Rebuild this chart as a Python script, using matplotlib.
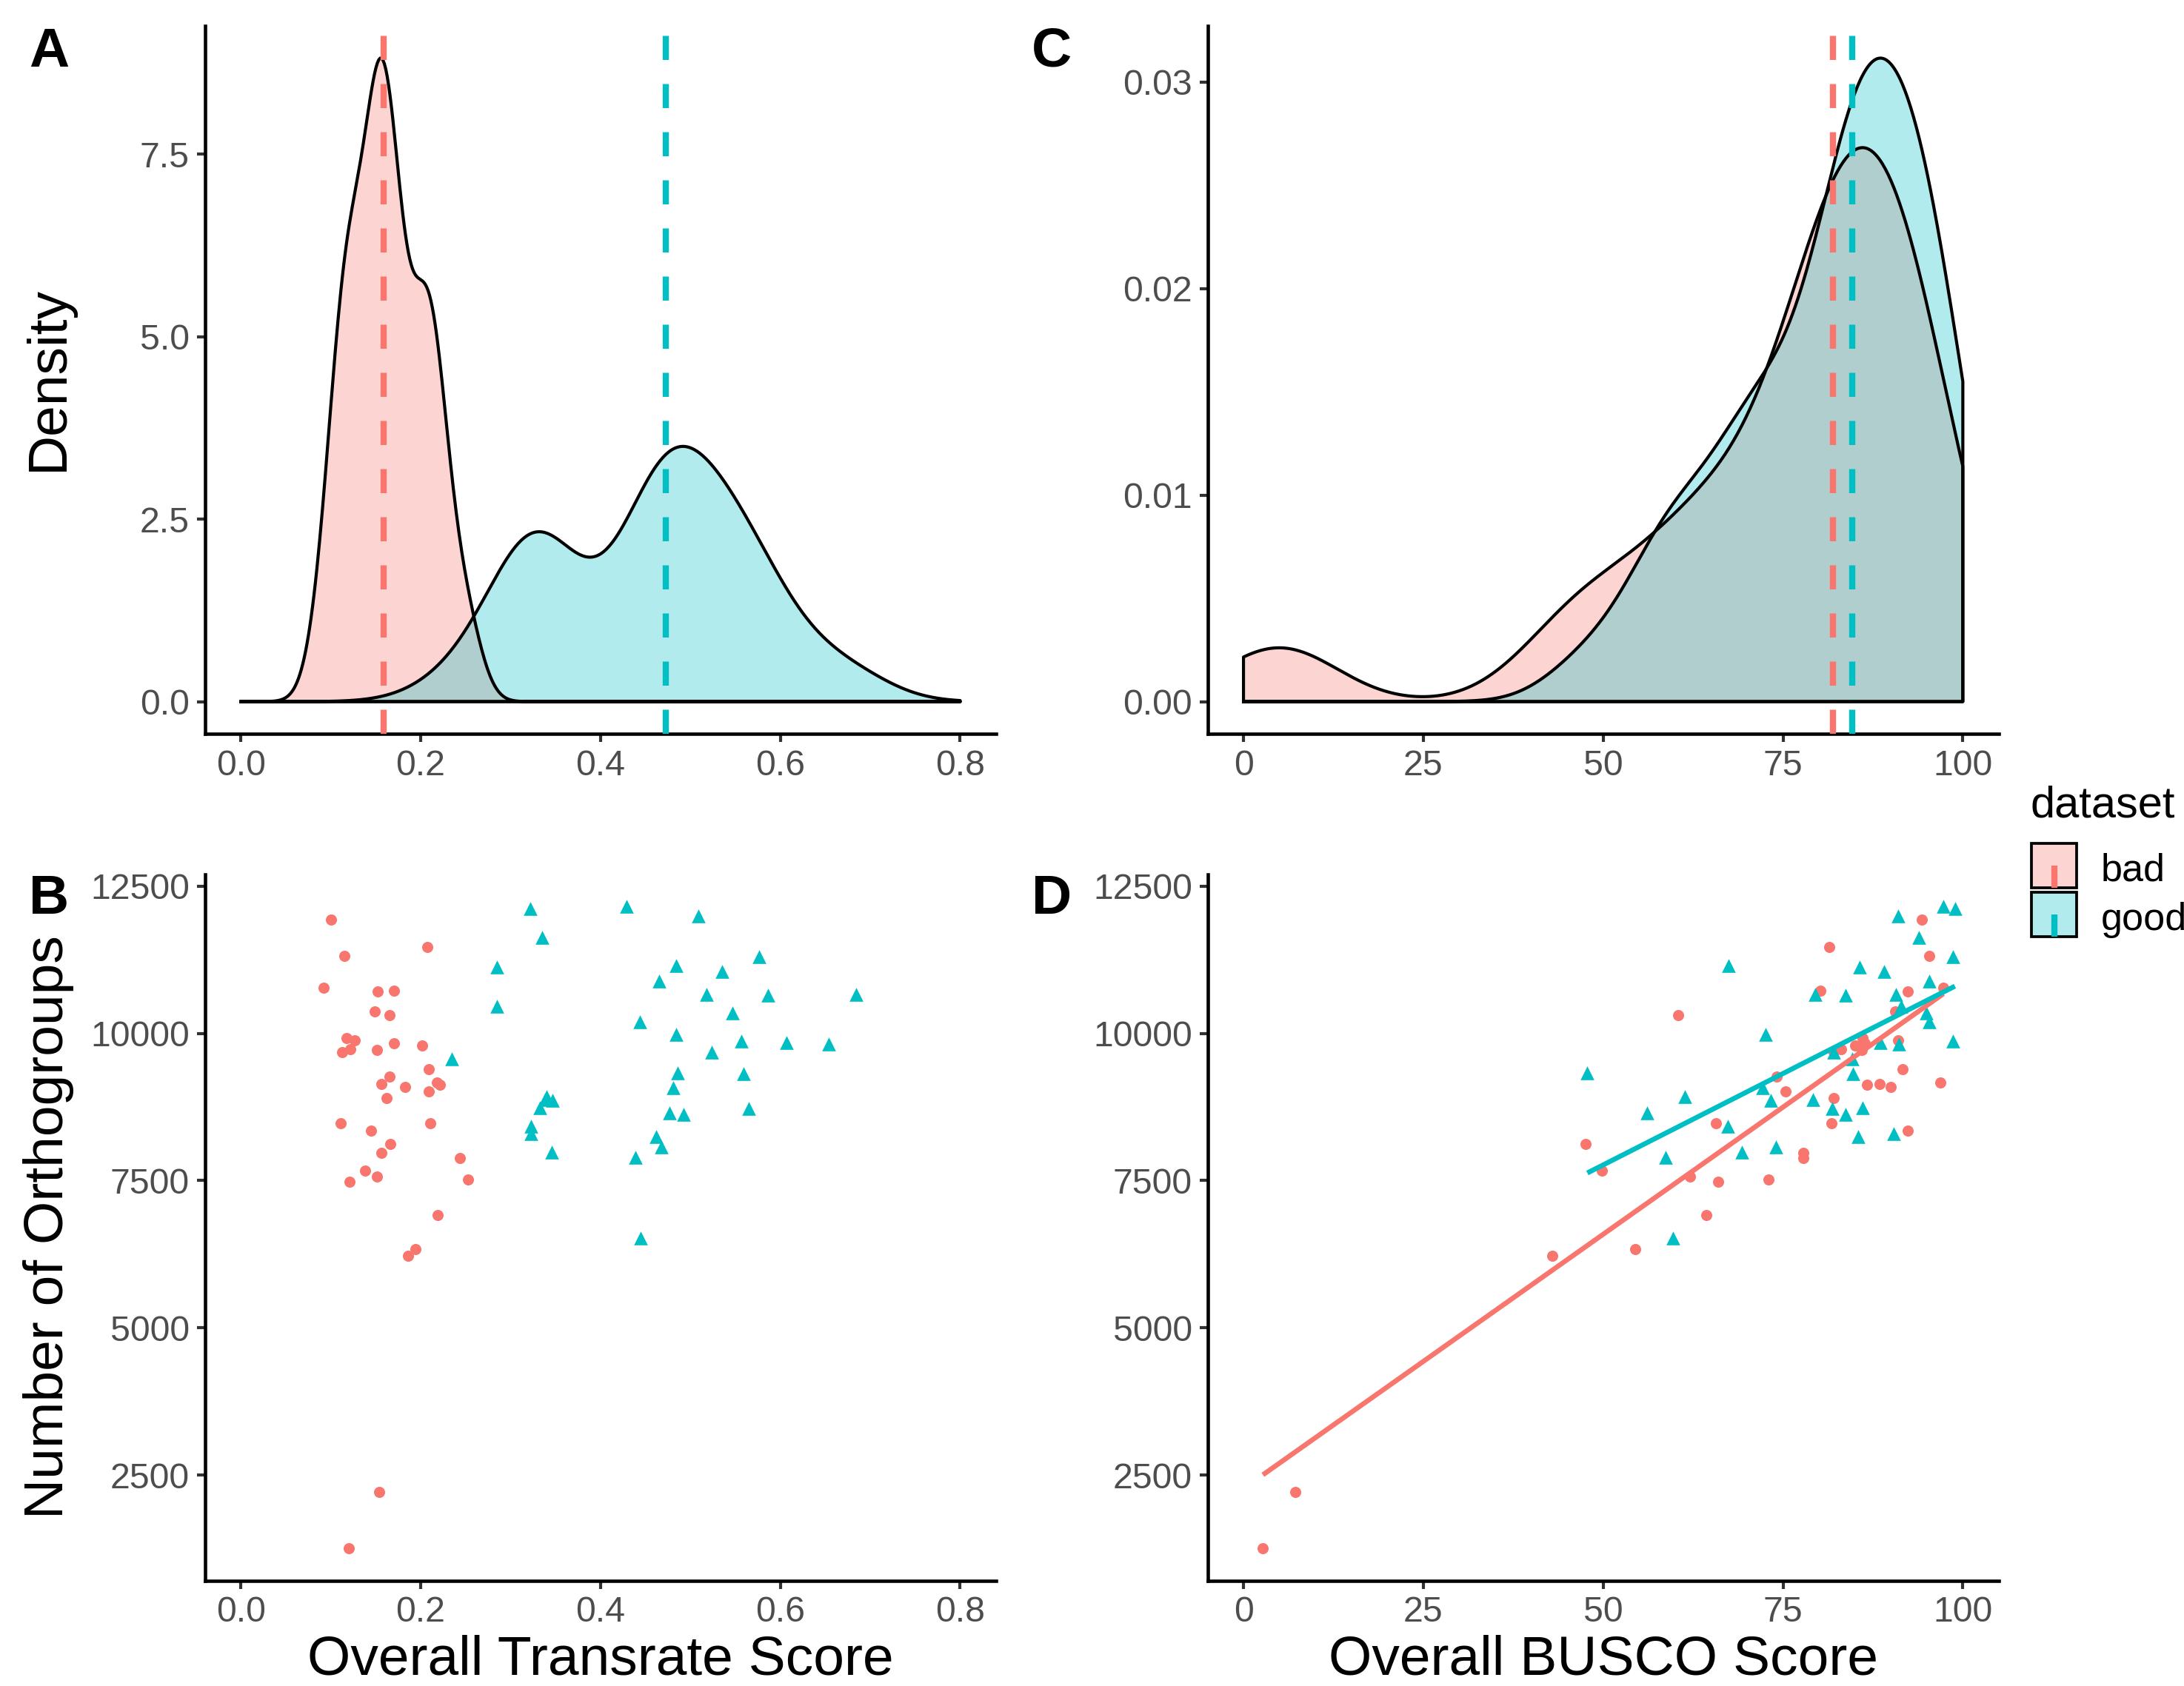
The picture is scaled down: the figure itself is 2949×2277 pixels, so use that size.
import numpy as np
import matplotlib
matplotlib.use("Agg")
import matplotlib.pyplot as plt
from matplotlib.patches import Rectangle
from matplotlib.lines import Line2D

plt.rcParams['font.family'] = ['Liberation Sans', 'DejaVu Sans']

# ---------------- data ----------------
groups = ["bad", "good"]
colors = {"bad": "#F8766D", "good": "#00BFC4"}

bad_transrate = [0.100, 0.207, 0.115, 0.092, 0.170, 0.152, 0.149, 0.165, 0.118, 0.127,
                 0.170, 0.202, 0.122, 0.151, 0.113, 0.209, 0.165, 0.218, 0.156, 0.221,
                 0.183, 0.209, 0.162, 0.211, 0.111, 0.145, 0.166, 0.156, 0.244, 0.138,
                 0.151, 0.253, 0.121, 0.219, 0.194, 0.186, 0.154, 0.120]
bad_busco = [94.3, 81.4, 95.3, 97.3, 80.2, 92.3, 90.6, 60.4, 86.1, 91.0,
             86.4, 85.0, 83.1, 86.0, 82.1, 91.6, 74.1, 96.9, 88.4, 86.7,
             90.0, 75.4, 82.1, 65.7, 81.7, 92.3, 47.6, 77.8, 77.8, 49.8,
             62.1, 73.0, 66.0, 64.3, 54.5, 42.9, 7.2, 2.7]
bad_orthogroups = [11930, 11470, 11310, 10775, 10725, 10715, 10365, 10305, 9922, 9886,
                   9830, 9790, 9728, 9718, 9676, 9395, 9265, 9160, 9135, 9125,
                   9090, 9018, 8895, 8478, 8470, 8346, 8125, 7971, 7884, 7672,
                   7562, 7512, 7482, 6911, 6342, 6228, 2218, 1255]

good_transrate = [0.429, 0.322, 0.509, 0.335, 0.576, 0.484, 0.285, 0.535, 0.465, 0.518,
                  0.684, 0.586, 0.285, 0.547, 0.444, 0.484, 0.557, 0.607, 0.654, 0.524,
                  0.235, 0.486, 0.559, 0.481, 0.340, 0.338, 0.347, 0.333, 0.565, 0.477,
                  0.492, 0.323, 0.323, 0.462, 0.468, 0.346, 0.439, 0.445]
good_busco = [97.3, 98.9, 91.0, 93.9, 98.6, 67.4, 85.7, 89.1, 95.3, 79.5,
              90.7, 83.7, 91.4, 94.9, 95.3, 72.6, 98.6, 88.5, 91.1, 82.1,
              84.6, 47.8, 84.7, 72.2, 61.4, 79.2, 73.3, 86.1, 81.8, 56.1,
              83.7, 67.3, 90.4, 85.4, 74.0, 69.3, 58.7, 59.7]
good_orthogroups = [12150, 12113, 11986, 11630, 11302, 11149, 11125, 11049, 10880, 10663,
                    10658, 10643, 10455, 10342, 10189, 9980, 9872, 9844, 9817, 9678,
                    9566, 9332, 9314, 9078, 8924, 8880, 8860, 8734, 8719, 8648,
                    8628, 8418, 8299, 8244, 8069, 7985, 7895, 6525]

transrate = {"bad": np.array(bad_transrate), "good": np.array(good_transrate)}
busco = {"bad": np.array(bad_busco), "good": np.array(good_busco)}
ortho = {"bad": np.array(bad_orthogroups), "good": np.array(good_orthogroups)}

transrate_ticks = [0.0, 0.2, 0.4, 0.6, 0.8]
busco_ticks = [0, 25, 50, 75, 100]
ortho_ticks = [2500, 5000, 7500, 10000, 12500]
densA_ticks = [0.0, 2.5, 5.0, 7.5]
densC_ticks = [0.00, 0.01, 0.02, 0.03]


def kde_nrd0(x, grid):
    x = np.asarray(x, float)
    n = len(x)
    sd = np.std(x, ddof=1)
    q75, q25 = np.percentile(x, [75, 25])
    lo = min(sd, (q75 - q25) / 1.34)
    bw = 0.9 * lo * n ** -0.2
    z = (grid[:, None] - x[None, :]) / bw
    return np.exp(-0.5 * z ** 2).sum(axis=1) / (n * bw * np.sqrt(2 * np.pi))


# ---------------- figure ----------------
W, H = 2949, 2277
fig = plt.figure(figsize=(W / 300, H / 300), dpi=300)

TICK_FS = 11.6
TITLE_FS = 18
tick_col = "#4D4D4D"

def style(ax):
    for s in ["top", "right"]:
        ax.spines[s].set_visible(False)
    for s in ["left", "bottom"]:
        ax.spines[s].set_linewidth(1.1)
        ax.spines[s].set_color("black")
    ax.tick_params(length=2.75, width=1.0, color="#333333", labelcolor=tick_col,
                   labelsize=TICK_FS, pad=2.2)
    ax.set_facecolor("none")

axL, axR = 0.0938, 0.5529
axW = 0.3623
topT, topH = 0.5648, 0.4198
botB, botH = 0.0625, 0.4188

axA = fig.add_axes([axL, topT, axW, topH])
axC = fig.add_axes([axR, topT, axW, topH])
axB = fig.add_axes([axL, botB, axW, botH])
axD = fig.add_axes([axR, botB, axW, botH])

# density panels
def density_panel(ax, data, lo, hi, ticks, fmt):
    grid = np.linspace(lo, hi, 512)
    ymax = 0
    for g in groups:
        d = kde_nrd0(data[g], grid)
        ymax = max(ymax, d.max())
        ax.fill_between(grid, 0, d, facecolor=colors[g], alpha=0.3, edgecolor="none", zorder=2)
        xs = np.concatenate([[grid[0]], grid, [grid[-1], grid[0]]])
        ys = np.concatenate([[0], d, [0, 0]])
        ax.plot(xs, ys, color="black", lw=1.0, zorder=3)
    for g in groups:
        ax.axvline(np.median(data[g]), color=colors[g], lw=2.0, ls=(0, (3.9, 3.9)), zorder=4)
    pad = 0.05 * (hi - lo)
    ax.set_xlim(lo - pad, hi + pad)
    ax.set_ylim(-0.05 * ymax, 1.05 * ymax)
    ax.set_xticks(ticks)
    ax.set_xticklabels([fmt(t) for t in ticks])

density_panel(axA, transrate, 0.0, 0.8, transrate_ticks, lambda t: f"{t:.1f}")
axA.set_yticks(densA_ticks)
axA.set_yticklabels([f"{t:.1f}" for t in densA_ticks])
density_panel(axC, busco, 0.0, 100.0, busco_ticks, lambda t: f"{t:d}")
axC.set_yticks(densC_ticks)
axC.set_yticklabels([f"{t:.2f}" for t in densC_ticks])

# scatter panels
allo = np.concatenate([ortho[g] for g in groups])
olo, ohi = allo.min(), allo.max()
opad = 0.05 * (ohi - olo)
markers = {"bad": "o", "good": "^"}
sizes = {"bad": 13, "good": 20}

for ax, xd, xlo, xhi, ticks, fmt in [
        (axB, transrate, 0.0, 0.8, transrate_ticks, lambda t: f"{t:.1f}"),
        (axD, busco, 0.0, 100.0, busco_ticks, lambda t: f"{t:d}")]:
    for g in groups:
        ax.scatter(xd[g], ortho[g], s=sizes[g], marker=markers[g], color=colors[g],
                   linewidths=0, zorder=3)
    pad = 0.05 * (xhi - xlo)
    ax.set_xlim(xlo - pad, xhi + pad)
    ax.set_ylim(olo - opad, ohi + opad)
    ax.set_xticks(ticks)
    ax.set_xticklabels([fmt(t) for t in ticks])
    ax.set_yticks(ortho_ticks)
    ax.set_yticklabels([str(t) for t in ortho_ticks])

for g in groups:
    x = busco[g]
    y = ortho[g]
    k, b = np.polyfit(x, y, 1)
    xx = np.linspace(x.min(), x.max(), 80)
    axD.plot(xx, k * xx + b, color=colors[g], lw=1.6, zorder=4, solid_capstyle="butt")

for ax in [axA, axB, axC, axD]:
    style(ax)

# axis titles
fig.text(65 / W, 1 - 511 / H, "Density", rotation=90, ha="center", va="center",
         fontsize=TITLE_FS, color="black")
fig.text(66 / W, 1 - 1657 / H, "Number of Orthogroups", rotation=90, ha="center",
         va="center", fontsize=TITLE_FS, color="black")
fig.text(811 / W, 1 - 2261 / H, "Overall Transrate Score", ha="center", va="baseline",
         fontsize=TITLE_FS, color="black")
fig.text(2165 / W, 1 - 2261 / H, "Overall BUSCO Score", ha="center", va="baseline",
         fontsize=TITLE_FS, color="black")

# panel labels
for lab, (px, py) in {"A": (66, 70), "C": (1420, 70), "B": (66, 1214), "D": (1420, 1214)}.items():
    fig.text(px / W, 1 - py / H, lab, ha="center", va="center", fontsize=18,
             fontweight="bold", color="black")

# legend
fig.text(2742 / W, 1 - 1103 / H, "dataset", ha="left", va="baseline", fontsize=14.3)
keys = [("bad", 1139, 1199), ("good", 1205, 1265)]
for g, y0, y1 in keys:
    x0, x1 = 2743, 2804
    rect = Rectangle((x0 / W, 1 - y1 / H), (x1 - x0) / W, (y1 - y0) / H,
                     transform=fig.transFigure, facecolor=colors[g], alpha=0.3,
                     edgecolor="none")
    fig.add_artist(rect)
    edge = Rectangle((x0 / W, 1 - y1 / H), (x1 - x0) / W, (y1 - y0) / H,
                     transform=fig.transFigure, facecolor="none", edgecolor="black",
                     linewidth=0.9)
    fig.add_artist(edge)
    xm = (x0 + x1) / 2
    ln = Line2D([xm / W, xm / W], [1 - y1 / H, 1 - (y0 + y1) / 2 / H],
                transform=fig.transFigure, color=colors[g], lw=2.0, solid_capstyle="butt")
    fig.add_artist(ln)
    fig.text(2837 / W, 1 - (y1 - 9) / H, g, ha="left", va="baseline", fontsize=12.5)

fig.savefig("out.png", dpi=300)
